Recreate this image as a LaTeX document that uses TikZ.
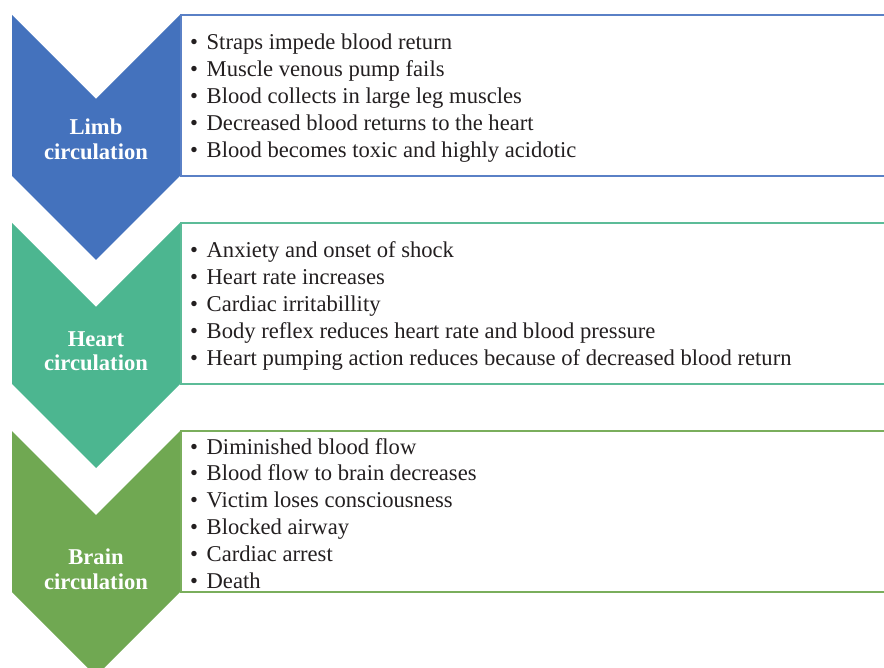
\documentclass[tikz,border=0pt]{standalone}
\usepackage{fontspec}
\setmainfont{Liberation Serif}
\definecolor{cblue}{HTML}{4472BD}
\definecolor{cteal}{HTML}{4CB690}
\definecolor{cgreen}{HTML}{70A852}
\definecolor{bblue}{HTML}{5A80C6}
\definecolor{bteal}{HTML}{5CBC98}
\definecolor{bgreen}{HTML}{7AAE5C}
\definecolor{txt}{HTML}{231F20}
\begin{document}
\begin{tikzpicture}[x=1pt,y=-1pt,
  item/.style={anchor=base west,inner sep=0pt,text=txt,font=\fontsize{22.6}{27}\selectfont},
  lab/.style={anchor=base,inner sep=0pt,text=white,font=\fontsize{22.6}{27}\selectfont\bfseries},
  boxline/.style={line width=1.5pt}]
\useasboundingbox (0,0) rectangle (884,668);
\clip (0,0) rectangle (884,668);
% chevrons
\foreach \t/\c/\n in {15/cblue/c1, 223/cteal/c2, 431/cgreen/c3}{
  \fill[\c] (12,\t) -- (96,\t+84) -- (180,\t) -- (180,\t+161) -- (96,\t+245) -- (12,\t+161) -- cycle;
}
% boxes
\foreach \t/\c in {15/bblue, 223/bteal, 431/bgreen}{
  \draw[boxline,\c] (900,\t) -- (180.75,\t) -- (180.75,\t+161) -- (900,\t+161);
}
% labels
\node[lab] (l1a) at (96,135) {Limb};
\node[lab] (l1b) at (96,160) {circulation};
\node[lab] (l2a) at (96,346.5) {Heart};
\node[lab] (l2b) at (96,371) {circulation};
\node[lab] (l3a) at (96,564.5) {Brain};
\node[lab] (l3b) at (96,589) {circulation};
% items
\newcommand{\itm}[1]{\makebox[16.5pt][l]{\textbullet}#1}
\node[item] (a1) at (190,50) {\itm{Straps impede blood return}};
\node[item] (a2) at (190,76.8) {\itm{Muscle venous pump fails}};
\node[item] (a3) at (190,103.6) {\itm{Blood collects in large leg muscles}};
\node[item] (a4) at (190,130.4) {\itm{Decreased blood returns to the heart}};
\node[item] (a5) at (190,157.2) {\itm{Blood becomes toxic and highly acidotic}};
\node[item] (b1) at (190,258) {\itm{Anxiety and onset of shock}};
\node[item] (b2) at (190,284.8) {\itm{Heart rate increases}};
\node[item] (b3) at (190,311.6) {\itm{Cardiac irritabillity}};
\node[item] (b4) at (190,338.4) {\itm{Body reflex reduces heart rate and blood pressure}};
\node[item] (b5) at (190,365.2) {\itm{Heart pumping action reduces because of decreased blood return}};
\node[item] (d1) at (190,454) {\itm{Diminished blood flow}};
\node[item] (d2) at (190,480.8) {\itm{Blood flow to brain decreases}};
\node[item] (d3) at (190,507.6) {\itm{Victim loses consciousness}};
\node[item] (d4) at (190,534.4) {\itm{Blocked airway}};
\node[item] (d5) at (190,561.2) {\itm{Cardiac arrest}};
\node[item] (d6) at (190,588) {\itm{Death}};
\end{tikzpicture}
\end{document}
